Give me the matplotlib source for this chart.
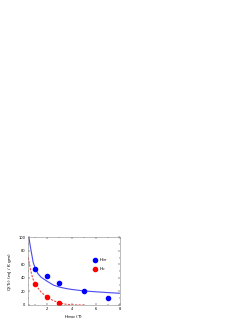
import numpy as np
from matplotlib import pyplot as plt
from matplotlib.ticker import MultipleLocator

# puntos medidos
x_pts = [1, 2, 3, 5, 7]
q_irr = [53, 42.5, 33, 21, 10.5]
x_pts_c = [1, 2, 3]
q_c = [31, 12, 3.4]

# curvas de ajuste
x_fit_irr = [0.5, 0.6, 0.73, 0.85, 1.0, 1.25, 1.5, 2.0, 2.5, 3.0, 3.5, 4.0, 5.0, 6.0, 7.0, 8.0]
y_fit_irr = [100, 88, 75, 63, 55, 46, 41, 35, 29.5, 26.5, 24.5, 23, 20.8, 19.5, 18.3, 17.3]
x_fit_c = [0.45, 0.6, 0.8, 1.0, 1.5, 2.0, 2.5, 3.0, 3.5, 4.0, 4.5, 5.0]
y_fit_c = [70, 55, 40, 31, 19, 11.5, 6.5, 3.2, 1.2, 0.3, 0.05, 0]

fig = plt.figure(figsize=(2.53, 3.27), dpi=100)
ax = fig.add_axes([0.1095, 0.0673, 0.366, 0.207])

ax.plot(x_fit_irr, y_fit_irr, '-', color='#4a4af0', lw=0.8)
ax.plot(x_fit_c, y_fit_c, '--', color='#f04a4a', lw=0.8, dashes=(2, 1.2))
ax.plot(x_pts, q_irr, 'o', color='#0000ff', ms=3.0, label='H$_{irr}$')
ax.plot(x_pts_c, q_c, 'o', color='#ff0000', ms=3.0, label='H$_{c}$')

ax.set_xlim(0.4, 8)
ax.set_ylim(0, 100)
ax.xaxis.set_major_locator(MultipleLocator(2))
ax.xaxis.set_minor_locator(MultipleLocator(1))
ax.yaxis.set_major_locator(MultipleLocator(20))
ax.yaxis.set_minor_locator(MultipleLocator(10))
ax.tick_params(which='both', direction='in', top=True, right=True,
               labelsize=2.6, width=0.3, pad=1.5)
ax.tick_params(which='major', length=1.5)
ax.tick_params(which='minor', length=0.8)
for s in ax.spines.values():
    s.set_linewidth(0.4)
    s.set_color('#888888')

ax.set_xlabel('H$_{max}$ (T)', fontsize=3.2, labelpad=2)
ax.set_ylabel('Q(T$_c$) (mJ / K gm)', fontsize=3.2, labelpad=3)

ax.legend(loc='upper left', bbox_to_anchor=(0.67, 0.765), frameon=False,
          fontsize=3.2, handletextpad=0.3, borderpad=0.2, labelspacing=0.35,
          handlelength=1.0)

fig.savefig('out.png', dpi=100)
